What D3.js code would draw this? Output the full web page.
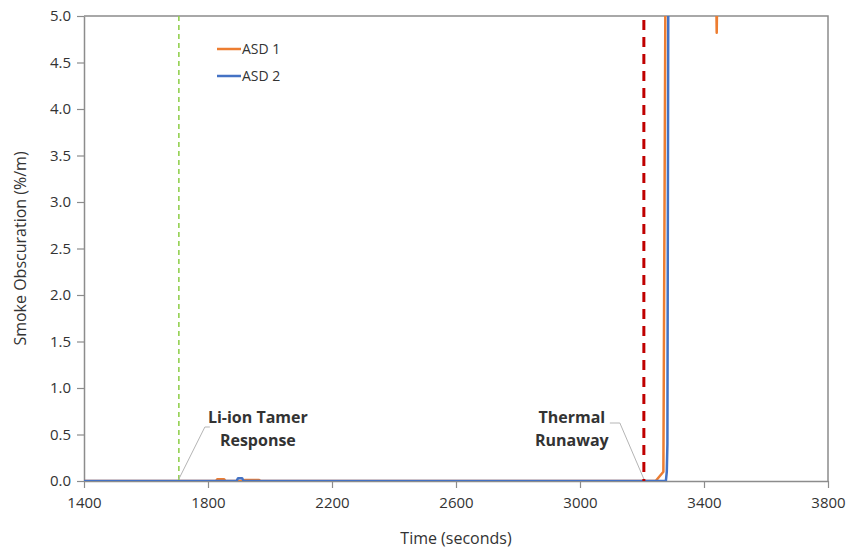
<!DOCTYPE html>
<html>
<head>
<meta charset="utf-8">
<script src="https://cdn.jsdelivr.net/npm/d3@7"></script>
<style>
  body { margin: 0; background: #fff; }
  text { font-family: "Open Sans", "DejaVu Sans", sans-serif; fill: #333; }
</style>
</head>
<body>
<svg id="chart"></svg>
<script>
const WIDTH = 852;
const HEIGHT = 550;

// series data (time in s, obscuration in %/m); values over 5 run off the top of the plot
const asd1Time  = [1400, 1826, 1830, 1852, 1856, 1912, 1918, 1965, 1970, 3244, 3269, 3276, 3438, 3441, 3444, 3800];
const asd1Value = [0,    0,    0.02, 0.02, 0,    0,    0.01, 0.01, 0,    0,    0.1,  5.6,  5.6,  4.82, 5.6,  5.6];
const asd2Time  = [1400, 1892, 1897, 1910, 1915, 3277, 3280, 3282, 3285, 3800];
const asd2Value = [0,    0,    0.03, 0.03, 0,    0,    0.1,  0.4,  5.6,  5.6];

const seriesNames = ['ASD 1', 'ASD 2'];
const xTicks = [1400, 1800, 2200, 2600, 3000, 3400, 3800];
const yTicks = [0, 0.5, 1, 1.5, 2, 2.5, 3, 3.5, 4, 4.5, 5];

const eventTimes = [1706, 3206];
const eventLabels = [['Li-ion Tamer', 'Response'], ['Thermal', 'Runaway']];

window.onload = function(){
    makeChart();
};

function makeChart(){
    const margin = {top: 16, right: 24, bottom: 69, left: 84};
    const w = WIDTH - margin.left - margin.right;
    const h = HEIGHT - margin.top - margin.bottom;

    let svg = d3.select('#chart')
        .attr('width', WIDTH)
        .attr('height', HEIGHT);

    const x = d3.scaleLinear().domain([1400, 3800]).range([0, w]);
    const y = d3.scaleLinear().domain([0, 5]).range([h, 0]);

    let g = svg.append('g').attr('transform', `translate(${margin.left},${margin.top})`);

    g.append('clipPath').attr('id', 'plotClip')
        .append('rect').attr('x', 0).attr('y', 0).attr('width', w).attr('height', h);

    // frame top and right
    g.append('path')
        .attr('d', `M0,0H${w}V${h}`)
        .attr('fill', 'none')
        .attr('stroke', '#8c8c8c')
        .attr('stroke-width', 1.5);

    const series = [
        {name: seriesNames[0], t: asd1Time, v: asd1Value, color: '#ED7D31'},
        {name: seriesNames[1], t: asd2Time, v: asd2Value, color: '#4472C4'}
    ];

    const line = d3.line().x(d => x(d[0])).y(d => y(d[1]));

    // axes
    const xAxis = d3.axisBottom(x).tickValues(xTicks).tickSize(7).tickSizeOuter(0).tickFormat(d3.format('d'));
    const yAxis = d3.axisLeft(y).tickValues(yTicks).tickSize(7).tickSizeOuter(0).tickFormat(d3.format('.1f'));

    let xg = g.append('g').attr('transform', `translate(0,${h})`).call(xAxis);
    let yg = g.append('g').call(yAxis);
    [xg, yg].forEach(a => {
        a.select('.domain').attr('stroke', '#8c8c8c').attr('stroke-width', 1.5);
        a.selectAll('.tick line').attr('stroke', '#8c8c8c').attr('stroke-width', 1.2);
        a.selectAll('.tick text').style('font-size', '15px').attr('fill', '#333');
    });
    xg.selectAll('.tick text').attr('dy', '1.05em').attr('y', 11);
    yg.selectAll('.tick text').attr('x', -13);

    // series lines, blue drawn over orange
    g.append('g').attr('clip-path', 'url(#plotClip)')
        .selectAll('path')
        .data(series)
        .enter()
        .append('path')
        .attr('d', s => line(s.t.map((t, i) => [t, s.v[i]])))
        .attr('fill', 'none')
        .attr('stroke', s => s.color)
        .attr('stroke-width', 2.5)
        .attr('stroke-linejoin', 'round');

    // event markers
    g.append('line')
        .attr('x1', x(eventTimes[0])).attr('x2', x(eventTimes[0]))
        .attr('y1', 0).attr('y2', h)
        .attr('stroke', '#92D050').attr('stroke-width', 1.6)
        .attr('stroke-dasharray', '5,4');
    g.append('line')
        .attr('x1', x(eventTimes[1])).attr('x2', x(eventTimes[1]))
        .attr('y1', 4).attr('y2', h)
        .attr('stroke', '#C00000').attr('stroke-width', 3)
        .attr('stroke-dasharray', '10,7');

    // annotation leaders and labels
    const labelPos = [
        {cx: x(eventTimes[0]) + 79, base: 423, elbow: [x(eventTimes[0]) + 26, 427], end: x(eventTimes[0]) + 31},
        {cx: x(eventTimes[1]) - 72, base: 423, elbow: [x(eventTimes[1]) - 24, 423], end: x(eventTimes[1]) - 34}
    ];
    eventTimes.forEach((t, i) => {
        const p = labelPos[i];
        g.append('path')
            .attr('d', `M${x(t)},${h - 2}L${p.elbow[0]},${p.elbow[1] - margin.top}H${p.end}`)
            .attr('fill', 'none')
            .attr('stroke', '#b5b5b5')
            .attr('stroke-width', 1);
        let txt = g.append('text')
            .attr('x', p.cx)
            .attr('y', p.base - margin.top)
            .attr('text-anchor', 'middle')
            .style('font-size', '16px')
            .style('font-weight', 'bold')
            .attr('fill', '#111');
        eventLabels[i].forEach((s, j) => {
            txt.append('tspan').attr('x', p.cx).attr('dy', j === 0 ? 0 : 23).text(s);
        });
    });

    // legend
    let legend = g.append('g').attr('transform', `translate(${217 - margin.left},${49 - margin.top})`);
    series.forEach((s, i) => {
        legend.append('line')
            .attr('x1', 0).attr('x2', 24)
            .attr('y1', i * 27).attr('y2', i * 27)
            .attr('stroke', s.color).attr('stroke-width', 2.5);
        legend.append('text')
            .attr('x', 25).attr('y', i * 27)
            .attr('dy', '0.35em')
            .style('font-size', '14px')
            .text(s.name);
    });

    // axis titles
    svg.append('text')
        .attr('x', margin.left + w / 2)
        .attr('y', 544)
        .attr('text-anchor', 'middle')
        .style('font-size', '16px')
        .text('Time (seconds)');
    svg.append('text')
        .attr('transform', `translate(26,${margin.top + h / 2}) rotate(-90)`)
        .attr('text-anchor', 'middle')
        .style('font-size', '16px')
        .text('Smoke Obscuration (%/m)');
}
</script>
</body>
</html>
